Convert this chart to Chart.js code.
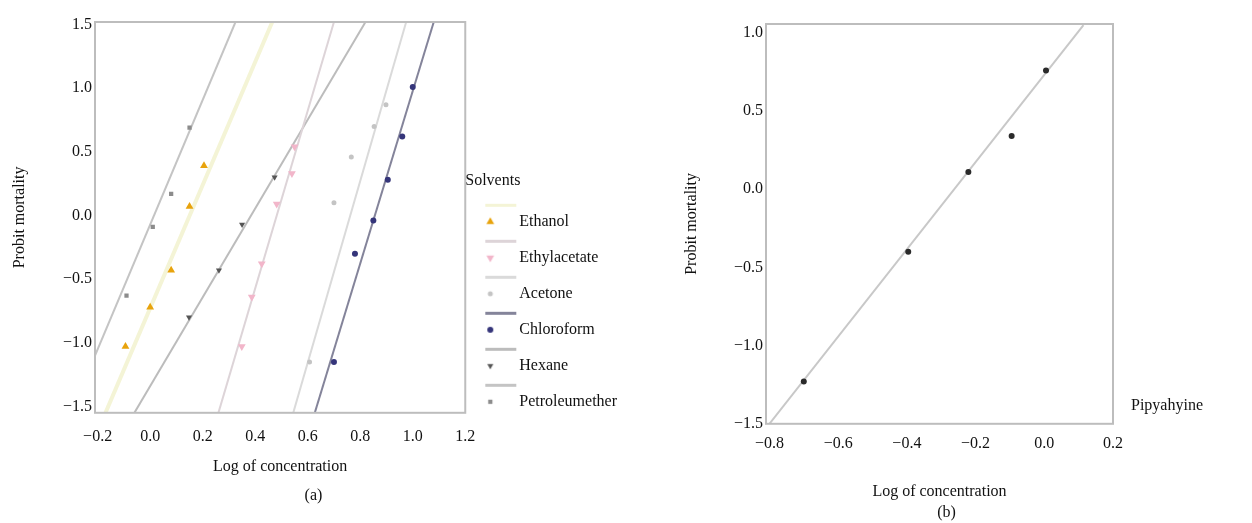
<!DOCTYPE html>
<html>
<head>
<meta charset="utf-8">
<script src="https://cdn.jsdelivr.net/npm/chart.js@4.4.1/dist/chart.umd.min.js"></script>
<style>
    html, body { margin: 0; padding: 0; background: #fff; }
    #panelA { position: absolute; left: 0; top: 0; width: 640px; height: 523px; }
    #panelB { position: absolute; left: 680px; top: 0; width: 572px; height: 523px; }
</style>
</head>
<body>
<div id="panelA"><canvas id="chartSolvents"></canvas></div>
<div id="panelB"><canvas id="chartPipyahyine"></canvas></div>
<script>
// --- panel (a): solvents ---
const ethanolX = [-0.094, 0.0, 0.08, 0.15, 0.205];
const ethanolY = [-1.03, -0.72, -0.43, 0.07, 0.39];
const ethylacetateX = [0.349, 0.387, 0.425, 0.482, 0.54, 0.55];
const ethylacetateY = [-1.03, -0.64, -0.38, 0.09, 0.33, 0.54];
const acetoneX = [0.607, 0.70, 0.766, 0.853, 0.898];
const acetoneY = [-1.15, 0.10, 0.46, 0.70, 0.87];
const chloroformX = [0.70, 0.78, 0.85, 0.905, 0.96, 1.0];
const chloroformY = [-1.15, -0.30, -0.04, 0.28, 0.62, 1.01];
const hexaneX = [0.148, 0.262, 0.35, 0.474];
const hexaneY = [-0.80, -0.43, -0.07, 0.30];
const petroleumX = [-0.09, 0.01, 0.08, 0.15];
const petroleumY = [-0.63, -0.09, 0.17, 0.69];

// fitted probit lines (end points)
const fitEthanolX = [-0.17, 0.465];
const fitEthanolY = [-1.55, 1.52];
const fitEthylacetateX = [0.26, 0.70];
const fitEthylacetateY = [-1.55, 1.52];
const fitAcetoneX = [0.545, 0.975];
const fitAcetoneY = [-1.55, 1.52];
const fitChloroformX = [0.627, 1.08];
const fitChloroformY = [-1.55, 1.52];
const fitHexaneX = [-0.06, 0.82];
const fitHexaneY = [-1.55, 1.52];
const fitPetroleumX = [-0.21, 0.325];
const fitPetroleumY = [-1.10, 1.52];

const xTicksA = [-0.2, 0.0, 0.2, 0.4, 0.6, 0.8, 1.0, 1.2];
const yTicksA = [-1.5, -1.0, -0.5, 0.0, 0.5, 1.0, 1.5];

// --- panel (b): pipyahyine ---
const pipX = [-0.70, -0.396, -0.221, -0.095, 0.005];
const pipY = [-1.23, -0.40, 0.11, 0.34, 0.76];
const fitPipX = [-0.80, 0.114];
const fitPipY = [-1.50, 1.05];

const xTicksB = [-0.8, -0.6, -0.4, -0.2, 0.0, 0.2];
const yTicksB = [-1.5, -1.0, -0.5, 0.0, 0.5, 1.0];

Chart.defaults.font.family = "'Liberation Serif', 'DejaVu Serif', serif";
Chart.defaults.font.size = 16;
Chart.defaults.color = '#111';

const toPoints = (xs, ys) => xs.map((x, i) => ({ x: x, y: ys[i] }));
const fmt = v => (v < 0 ? '\u2212' : '') + Math.abs(v).toFixed(1);

// grey box around the plotting area
const framePlugin = {
    id: 'frame',
    afterDatasetsDraw(chart) {
        const { ctx, chartArea: a } = chart;
        ctx.save();
        ctx.strokeStyle = '#bdbdbd';
        ctx.lineWidth = 2;
        ctx.strokeRect(a.left, a.top, a.right - a.left, a.bottom - a.top);
        ctx.restore();
    }
};

// the solvents legend sits a little below the plot's bottom edge
const legendDrop = {
    id: 'legendDrop',
    afterLayout(chart) {
        chart.legend.top += 17;
        chart.legend.bottom += 17;
    }
};

function pointSet(label, xs, ys, color, style, radius, rotation) {
    return {
        label: label,
        data: toPoints(xs, ys),
        backgroundColor: color,
        borderColor: color,
        pointStyle: style,
        pointRadius: radius,
        pointRotation: rotation || 0,
        borderWidth: 0,
        showLine: false
    };
}

function fitLine(label, xs, ys, color, width) {
    return {
        label: label,
        data: toPoints(xs, ys),
        borderColor: color,
        backgroundColor: color,
        borderWidth: width,
        pointRadius: 0,
        showLine: true
    };
}

// legend swatch: faint line sample above the marker, like the original figure
function legendIcon(pointDs, lineDs) {
    const c = document.createElement('canvas');
    c.width = 58;
    c.height = 40;
    const ctx = c.getContext('2d');
    ctx.fillStyle = lineDs.borderColor;
    ctx.fillRect(16, 2, 31, 3);
    ctx.fillStyle = pointDs.backgroundColor;
    Chart.helpers.drawPoint(ctx, {
        pointStyle: pointDs.pointStyle,
        radius: pointDs.pointRadius,
        rotation: pointDs.pointRotation,
        borderWidth: 0
    }, 21, 20);
    return c;
}

function axis(min, max, ticks, title, fixSize, tickPad, titlePad, horizontal) {
    return {
        type: 'linear',
        min: min,
        max: max,
        afterBuildTicks: s => { s.ticks = ticks.map(v => ({ value: v })); },
        afterFit: s => { if (horizontal) s.height = fixSize; else s.width = fixSize; },
        grid: { display: false, drawTicks: false },
        border: { display: false },
        ticks: { padding: tickPad, autoSkip: false, callback: v => fmt(v) },
        title: { display: true, text: title, padding: titlePad }
    };
}

document.addEventListener("DOMContentLoaded", () => {
    renderSolvents();
    renderPipyahyine();
});

function renderSolvents() {
    const points = [
        pointSet('Ethanol', ethanolX, ethanolY, '#e8a30c', 'triangle', 4.5),
        pointSet('Ethylacetate', ethylacetateX, ethylacetateY, '#f2b6ca', 'triangle', 4.5, 180),
        pointSet('Acetone', acetoneX, acetoneY, '#c4c4c4', 'circle', 2.5),
        pointSet('Chloroform', chloroformX, chloroformY, '#35357a', 'circle', 3),
        pointSet('Hexane', hexaneX, hexaneY, '#555555', 'triangle', 3.5, 180),
        pointSet('Petroleumether', petroleumX, petroleumY, '#8c8c8c', 'rect', 3)
    ];
    const lines = [
        fitLine('Ethanol fit', fitEthanolX, fitEthanolY, '#f4f4d6', 4),
        fitLine('Ethylacetate fit', fitEthylacetateX, fitEthylacetateY, '#ddd4d8', 2),
        fitLine('Acetone fit', fitAcetoneX, fitAcetoneY, '#dadada', 2),
        fitLine('Chloroform fit', fitChloroformX, fitChloroformY, '#84849a', 2),
        fitLine('Hexane fit', fitHexaneX, fitHexaneY, '#bcbcbc', 2),
        fitLine('Petroleumether fit', fitPetroleumX, fitPetroleumY, '#c4c4c4', 2)
    ];
    const icons = points.map((p, i) => legendIcon(p, lines[i]));

    new Chart(document.getElementById("chartSolvents"), {
        type: 'scatter',
        data: { datasets: points.concat(lines) },
        options: {
            responsive: true,
            maintainAspectRatio: false,
            animation: false,
            layout: { padding: { top: 22, right: 13, left: 0, bottom: 0 } },
            scales: {
                x: axis(-0.21, 1.2, xTicksA, 'Log of concentration', 70, 14, { top: 0, bottom: 6 }, true),
                y: axis(-1.55, 1.52, yTicksA, 'Probit mortality', 95, 3, { top: 10, bottom: 0 }, false)
            },
            plugins: {
                tooltip: { enabled: false },
                title: {
                    display: true, text: '(a)', position: 'bottom',
                    font: { size: 16, weight: 'normal' }, padding: { top: 3, bottom: 18 }
                },
                legend: {
                    position: 'right',
                    align: 'end',
                    fullSize: false,
                    maxWidth: 250,
                    title: { display: true, text: 'Solvents', position: 'start', font: { size: 16 }, padding: { top: 0, bottom: 2 } },
                    labels: {
                        usePointStyle: true,
                        pointStyleWidth: 26,
                        boxHeight: 7,
                        padding: 20,
                        generateLabels: chart => Chart.defaults.plugins.legend.labels.generateLabels(chart)
                            .filter(l => l.datasetIndex < 6)
                            .map(l => Object.assign(l, { pointStyle: icons[l.datasetIndex], rotation: 0 }))
                    }
                }
            }
        },
        plugins: [framePlugin, legendDrop]
    });
}

function renderPipyahyine() {
    new Chart(document.getElementById("chartPipyahyine"), {
        type: 'scatter',
        data: {
            datasets: [
                pointSet('Pipyahyine', pipX, pipY, '#2a2a2a', 'circle', 3),
                fitLine('Pipyahyine fit', fitPipX, fitPipY, '#c8c8c8', 2)
            ]
        },
        options: {
            responsive: true,
            maintainAspectRatio: false,
            animation: false,
            layout: { padding: { top: 24, right: 39, left: 0, bottom: 0 } },
            scales: {
                x: axis(-0.81, 0.2, xTicksB, 'Log of concentration', 78, 10, { top: 0, bottom: 0 }, true),
                y: axis(-1.5, 1.057, yTicksB, 'Probit mortality', 86, 3, { top: 2, bottom: 0 }, false)
            },
            plugins: {
                tooltip: { enabled: false },
                title: {
                    display: true, text: '(b)', position: 'bottom',
                    font: { size: 16, weight: 'normal' }, padding: { top: 1, bottom: 1 }
                },
                legend: {
                    position: 'right',
                    align: 'end',
                    fullSize: false,
                    labels: {
                        boxWidth: 0,
                        padding: 10,
                        generateLabels: chart => Chart.defaults.plugins.legend.labels.generateLabels(chart)
                            .filter(l => l.datasetIndex === 0)
                            .map(l => Object.assign(l, { fillStyle: 'rgba(0,0,0,0)', strokeStyle: 'rgba(0,0,0,0)', lineWidth: 0 }))
                    }
                }
            }
        },
        plugins: [framePlugin]
    });
}
</script>
</body>
</html>
